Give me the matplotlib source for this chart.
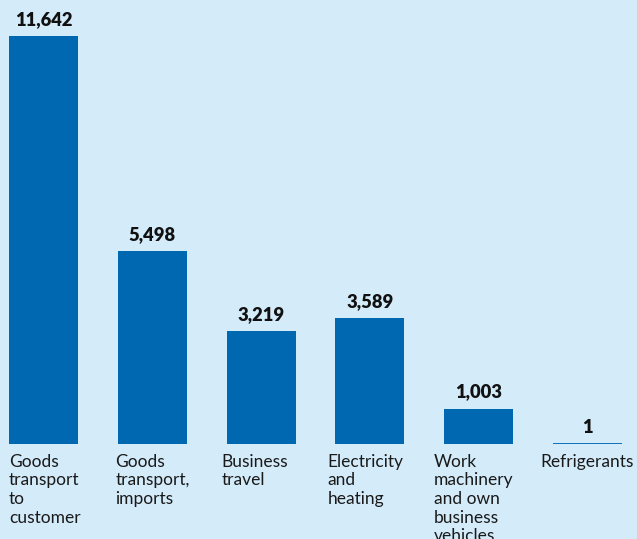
import matplotlib
matplotlib.use("Agg")
import matplotlib.pyplot as plt

categories = [
    "Goods\ntransport\nto\ncustomer",
    "Goods\ntransport,\nimports",
    "Business\ntravel",
    "Electricity\nand\nheating",
    "Work\nmachinery\nand own\nbusiness\nvehicles",
    "Refrigerants",
]
values = [11642, 5498, 3219, 3589, 1003, 1]
value_labels = ["11,642", "5,498", "3,219", "3,589", "1,003", "1"]

BG = "#d4ebfa"
BAR = "#0067b1"

W, H = 637, 539
fig = plt.figure(figsize=(W / 100, H / 100), dpi=100, facecolor=BG)
ax = fig.add_axes([0, 95 / H, 1, 444 / H])
ax.set_facecolor(BG)

x = list(range(len(values)))
bar_w = 0.634
# tiny values still get a thin visible outline
edge_w = [1.3 if v < 50 else 0 for v in values]
ax.bar(x, values, width=bar_w, color=BAR, edgecolor=BAR, linewidth=edge_w)
ax.set_xlim(-0.4, 5.455)
ax.set_ylim(0, 12667)
ax.axis("off")

for xi, v, lab in zip(x, values, value_labels):
    ax.annotate(lab, (xi, v), xytext=(0, 6), textcoords="offset points",
                ha="center", va="bottom", fontsize=13.2, fontweight="heavy",
                family="Lato", color="#111111")

# category labels sit just under the baseline, left aligned near each bar
for xi, cat in zip(x, categories):
    lx = xi - bar_w / 2 - xi * 0.024
    ax.annotate(cat, (lx, 0), xytext=(0, -7), textcoords="offset points",
                ha="left", va="top", fontsize=12.5, family="Lato",
                color="#1a1a1a", linespacing=1.2, annotation_clip=False)

fig.savefig("out.png", dpi=100, facecolor=BG)
